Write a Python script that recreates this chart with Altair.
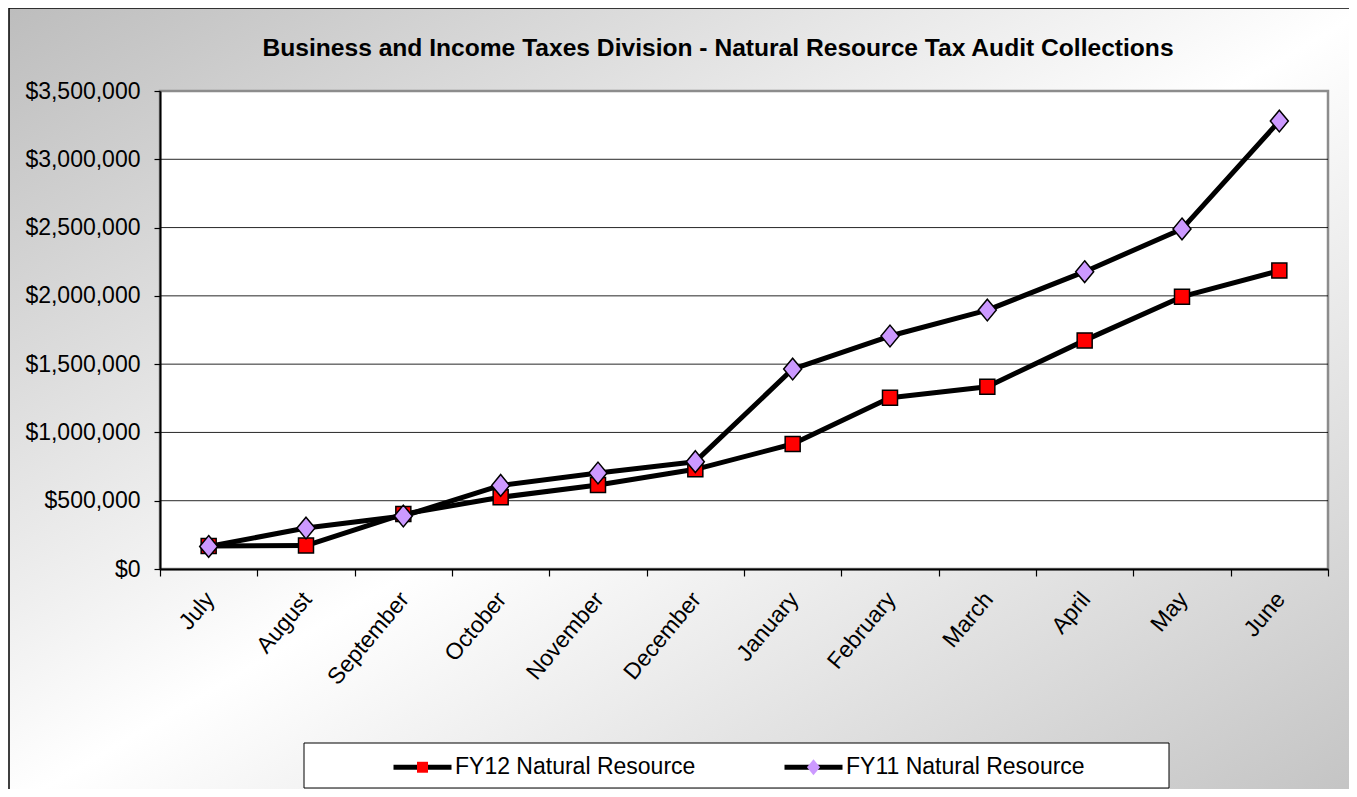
import altair as alt
import pandas as pd

# ---- data ----
months = ["July", "August", "September", "October", "November", "December",
          "January", "February", "March", "April", "May", "June"]
fy12_values = [168000, 172000, 402000, 525000, 615000, 730000,
               915000, 1254000, 1335000, 1674000, 1994000, 2185000]
fy11_values = [165000, 300000, 388000, 612000, 703000, 786000,
               1464000, 1706000, 1896000, 2177000, 2490000, 3280000]
series_names = ["FY12 Natural Resource", "FY11 Natural Resource"]
y_tick_values = [0, 500000, 1000000, 1500000, 2000000, 2500000, 3000000, 3500000]
chart_title = "Business and Income Taxes Division - Natural Resource Tax Audit Collections"

# ---- layout / style ----
FONT = "Liberation Sans"
W, H = 1168, 478
PL, PT, PR, PB = 152, 83, 21, 220
DIAMOND = "M0,-1.45L1.2,0L0,1.45L-1.2,0Z"

# marker keys: same text, but with a no-break space so the marker legend
# stays apart from the line legend (same look, different domain)
marker_names = [s.replace(" ", "\u00a0", 1) for s in series_names]

rows = []
for name, mname, vals in zip(series_names, marker_names, [fy12_values, fy11_values]):
    for i, (m, v) in enumerate(zip(months, vals)):
        rows.append({"month": m, "idx": i, "value": v, "series": name, "marker": mname})
df = pd.DataFrame(rows)
one = pd.DataFrame({"k": [0]})

y_scale = alt.Scale(domain=[0, 3500000], nice=False, zero=True)
x_scale = alt.Scale(type="band", paddingInner=0, paddingOuter=0)

x_axis = alt.Axis(
    title=None, tickBand="extent", labelAngle=310, labelAlign="right",
    labelBaseline="middle", labelFont=FONT, labelFontSize=23, labelColor="#000000",
    labelPadding=19, labelOffset=1,
    tickColor="#000000", tickSize=7, tickWidth=1.2, domainColor="#000000",
    domainWidth=2, grid=False, zindex=1, labelOverlap=False,
)
y_axis = alt.Axis(
    title=None, values=y_tick_values, format="$,.0f", labelFont=FONT,
    labelFontSize=23, labelColor="#000000", labelPadding=14, tickColor="#000000",
    tickSize=6, tickWidth=1.2, domainColor="#000000", domainWidth=2,
    grid=False, zindex=1,
)

x_enc = alt.X("month:N", sort=months, scale=x_scale, axis=x_axis)
y_enc = alt.Y("value:Q", scale=y_scale, axis=y_axis)

gradient = alt.LinearGradient(
    gradient="linear", x1=0, y1=0, x2=1, y2=1,
    stops=[alt.GradientStop(color="#bdbdbd", offset=0),
           alt.GradientStop(color="#ffffff", offset=0.5),
           alt.GradientStop(color="#c2c2c2", offset=1)],
)

bg = alt.Chart(one).mark_rect(fill=gradient, stroke="#000000", strokeWidth=1.5).encode(
    x=alt.value(-PL + 1), x2=alt.value(W + PR + 20),
    y=alt.value(-PT), y2=alt.value(H + PB + 20),
)
plot_bg = alt.Chart(one).mark_rect(fill="#ffffff", stroke="#8c8c8c", strokeWidth=2.5).encode(
    x=alt.value(0), x2=alt.value(W), y=alt.value(0), y2=alt.value(H),
)
legend_box = alt.Chart(one).mark_rect(fill="#ffffff", stroke="#000000", strokeWidth=1).encode(
    x=alt.value(144), x2=alt.value(1009), y=alt.value(652), y2=alt.value(697),
)

grid = alt.Chart(pd.DataFrame({"value": y_tick_values[1:-1]})).mark_rule(
    color="#000000", strokeWidth=1, opacity=0.85
).encode(y=y_enc)

# line part of the legend (with the labels)
legend_lines = alt.Legend(
    title=None, orient="none", legendX=231, legendY=644.5, direction="horizontal",
    columns=2, columnPadding=78, symbolType="stroke", symbolSize=3364,
    symbolStrokeWidth=5, symbolStrokeColor="#000000", labelFont=FONT,
    labelFontSize=23, labelColor="#000000", labelOffset=1, labelLimit=0,
    padding=0, zindex=1,
)
# marker part of the legend, laid over the line part (no labels of its own)
legend_points = alt.Legend(
    title=None, orient="none", legendX=231, legendY=664.5, direction="horizontal",
    columns=2, columnPadding=348, symbolSize=120, symbolStrokeColor="#000000",
    symbolStrokeWidth=1.5, symbolOffset=20, labelFont=FONT, labelFontSize=23,
    labelOffset=0, labelExpr="''", padding=0, zindex=2,
)

lines = alt.Chart(df).mark_line(strokeWidth=5, strokeJoin="round").encode(
    x=x_enc, y=y_enc,
    color=alt.Color("series:N", scale=alt.Scale(domain=series_names, range=["#000000", "#000000"]),
                    legend=legend_lines),
    order=alt.Order("idx:Q"),
)

points = alt.Chart(df).mark_point(
    filled=True, opacity=1, stroke="#000000", strokeWidth=1.5, size=225
).encode(
    x=x_enc, y=y_enc,
    shape=alt.Shape("marker:N", scale=alt.Scale(domain=marker_names, range=["square", DIAMOND]),
                    legend=legend_points),
    fill=alt.Fill("marker:N", scale=alt.Scale(domain=marker_names, range=["#ff0000", "#cc99ff"]),
                  legend=legend_points),
)

chart = alt.layer(bg, plot_bg, legend_box, grid, lines, points).properties(
    width=W, height=H,
    padding={"left": PL, "top": PT, "right": PR, "bottom": PB},
    autosize=alt.AutoSizeParams(type="none"),
    title=alt.TitleParams(
        text=chart_title, font=FONT, fontSize=24.6, fontWeight="bold", color="#000000",
        anchor="middle", frame="group", dx=-26, baseline="alphabetic", offset=-73.5,
    ),
).configure_view(stroke="transparent")

chart.save("out.html", embed_options={"renderer": "svg", "actions": False})
